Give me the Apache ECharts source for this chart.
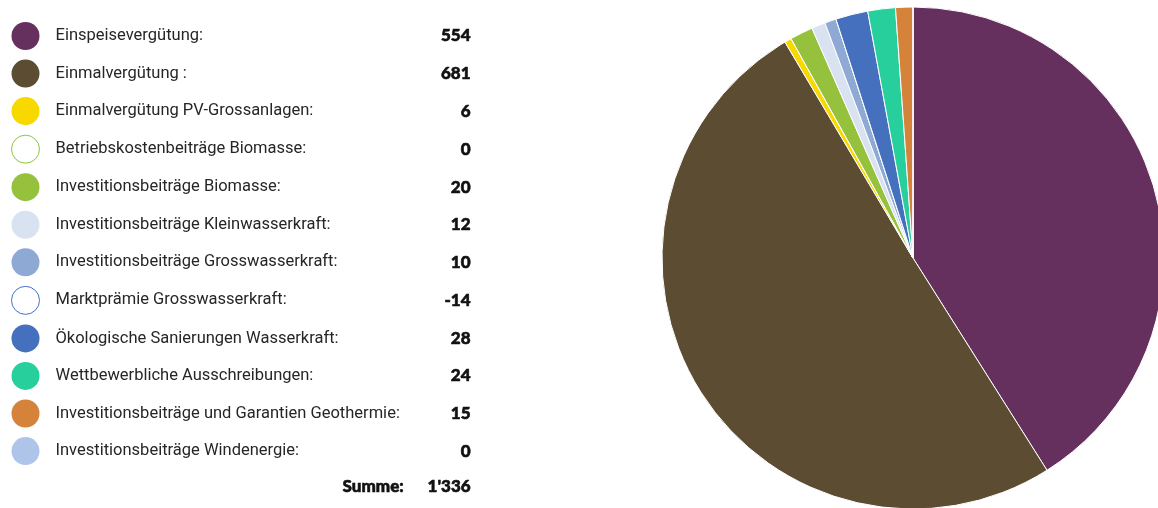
<!DOCTYPE html>
<html>
<head>
<meta charset="utf-8">
<style>
  html, body { margin: 0; padding: 0; background: #fff; }
  #chart { width: 1158px; height: 508px; }
</style>
<script src="https://cdn.jsdelivr.net/npm/echarts@6/dist/echarts.min.js"></script>
</head>
<body>
<div id="chart"></div>
<script>
// Förderbeiträge nach Kategorie (Mio. CHF)
const categories = [
  'Einspeisevergütung:',
  'Einmalvergütung :',
  'Einmalvergütung PV-Grossanlagen:',
  'Betriebskostenbeiträge Biomasse:',
  'Investitionsbeiträge Biomasse:',
  'Investitionsbeiträge Kleinwasserkraft:',
  'Investitionsbeiträge Grosswasserkraft:',
  'Marktprämie Grosswasserkraft:',
  'Ökologische Sanierungen Wasserkraft:',
  'Wettbewerbliche Ausschreibungen:',
  'Investitionsbeiträge und Garantien Geothermie:',
  'Investitionsbeiträge Windenergie:'
];
const values = [554, 681, 6, 0, 20, 12, 10, -14, 28, 24, 15, 0];
const colors = [
  '#66305e', '#5b4c32', '#f7d900', '#8cc63f', '#95c13c', '#d9e2f1',
  '#8fa9d5', '#4472c4', '#4570bd', '#27cf9d', '#d5823b', '#aec4e9'
];
// entries drawn as outlined circles in the legend
const hollow = [false, false, false, true, false, false, false, true, false, false, false, false];
const sumLabel = 'Summe:';

const total = values.reduce((a, b) => a + b, 0);
const fmt = v => String(v).replace(/\B(?=(\d{3})+(?!\d))/g, "'");

const chart = echarts.init(document.getElementById('chart'), null, { renderer: 'canvas' });

const pieData = categories.map((name, i) => ({
  name,
  value: Math.max(values[i], 0),
  itemStyle: { color: colors[i] }
}));

const legendData = categories.map((name, i) => ({
  name,
  icon: 'circle',
  itemStyle: hollow[i]
    ? { color: '#ffffff', borderColor: colors[i], borderWidth: 1 }
    : { color: colors[i], borderWidth: 0 }
}));

const FONT = 'Roboto, "Noto Sans", sans-serif';
const FONT_BOLD = 'Lato, Roboto, sans-serif';
const FS = 16.5;
const FS_BOLD = 17;
const INK = '#111';

// total row, drawn as plain text elements (thin outline thickens the heavy weight)
const sumStyle = text => ({
  text, fill: INK, stroke: INK, lineWidth: 0.6, textAlign: 'right',
  fontSize: FS_BOLD, fontWeight: 900, fontFamily: FONT_BOLD
});

chart.setOption({
  animation: false,
  backgroundColor: '#ffffff',
  legend: {
    orient: 'vertical',
    left: 11,
    top: 22,
    padding: 0,
    itemWidth: 50,
    itemHeight: 28,
    itemGap: 9.55,
    selectedMode: false,
    data: legendData,
    formatter: name => {
      const i = categories.indexOf(name);
      return '{n|' + name + '}{v|' + fmt(values[i]) + '}';
    },
    textStyle: {
      rich: {
        n: { width: 344, fontSize: FS, color: '#262626', fontFamily: FONT },
        v: {
          width: 71, align: 'right', color: INK,
          fontSize: FS_BOLD, fontWeight: 900, fontFamily: FONT_BOLD,
          textBorderColor: INK, textBorderWidth: 0.6
        }
      }
    }
  },
  graphic: [
    { type: 'text', right: 1158 - 404, top: 478, style: sumStyle(sumLabel) },
    { type: 'text', right: 1158 - 471, top: 478, style: sumStyle(fmt(total)) }
  ],
  series: [{
    type: 'pie',
    center: [913, 258],
    radius: [0, 251],
    startAngle: 90,
    clockwise: true,
    avoidLabelOverlap: false,
    label: { show: false },
    labelLine: { show: false },
    emphasis: { disabled: true },
    itemStyle: { borderColor: '#ffffff', borderWidth: 1 },
    data: pieData
  }]
});
</script>
</body>
</html>
